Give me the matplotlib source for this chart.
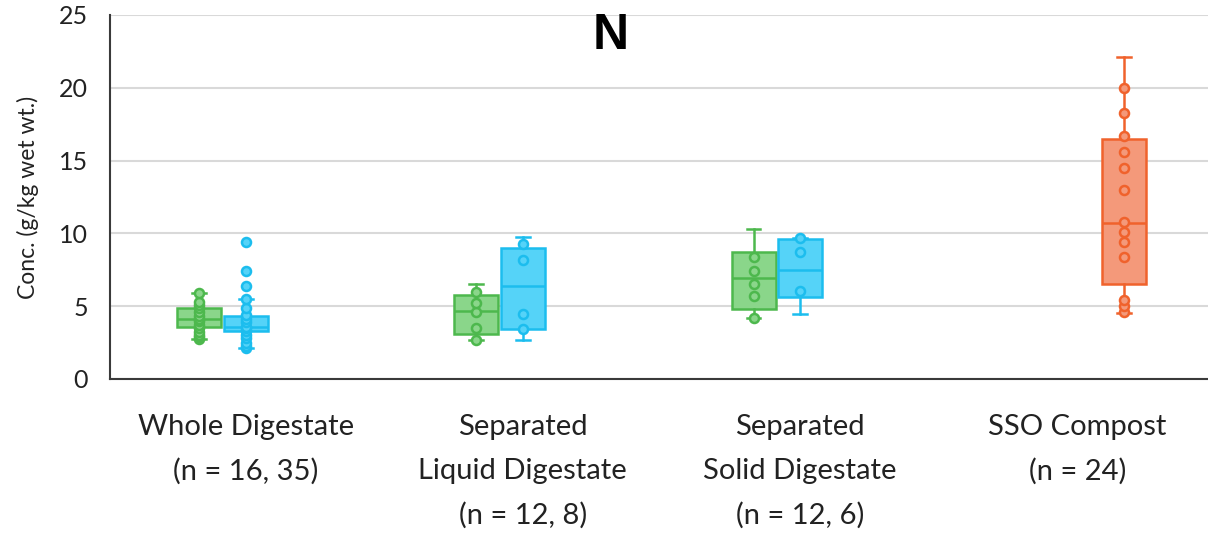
import numpy as np
import matplotlib.pyplot as plt

# Categories and tick labels
categories = ['Whole Digestate\n(n = 16, 35)',
              'Separated\nLiquid Digestate\n(n = 12, 8)',
              'Separated\nSolid Digestate\n(n = 12, 6)',
              'SSO Compost\n(n = 24)']

# Green series (digestate, set 1): box stats per category
green_cat = [0, 1, 2]
green_lo = [2.75, 2.7, 4.2]
green_q1 = [3.55, 3.1, 4.8]
green_med = [4.1, 4.65, 6.95]
green_q3 = [4.9, 5.8, 8.7]
green_hi = [5.9, 6.5, 10.3]
green_pts = [
    [2.75, 2.9, 3.0, 3.2, 3.5, 3.7, 4.0, 4.15, 4.3, 4.6, 4.9, 5.1, 5.3, 5.9],
    [2.7, 3.5, 4.6, 5.25, 6.0],
    [4.2, 5.7, 6.5, 7.4, 8.4],
]

# Blue series (digestate, set 2)
blue_cat = [0, 1, 2]
blue_lo = [2.1, 2.7, 4.45]
blue_q1 = [3.3, 3.4, 5.6]
blue_med = [3.6, 6.4, 7.5]
blue_q3 = [4.35, 9.0, 9.6]
blue_hi = [5.5, 9.75, 9.65]
blue_pts = [
    [2.1, 2.3, 2.5, 2.8, 3.0, 3.3, 3.5, 3.6, 3.9, 4.1, 4.4, 4.9, 5.5, 6.4, 7.4, 9.4],
    [3.4, 4.45, 8.15, 9.3],
    [6.05, 8.75, 9.65],
]

# Orange series (SSO compost)
orange_cat = [3]
orange_lo = [4.5]
orange_q1 = [6.5]
orange_med = [10.7]
orange_q3 = [16.5]
orange_hi = [22.1]
orange_pts = [[4.6, 5.0, 5.4, 8.4, 9.4, 10.1, 10.8, 13.0, 14.5, 15.6, 16.7, 18.3, 20.0]]

plt.rcParams['font.family'] = ['Lato', 'DejaVu Sans']

fig = plt.figure(figsize=(12.08, 5.36), dpi=100)
ax = fig.add_axes([110 / 1208, 157 / 536, 1098 / 1208, 364 / 536])

slot = 0.168
width = 0.159


def draw(cats, lo, q1, med, q3, hi, pts, offset, edge, face):
    stats = []
    for i in range(len(cats)):
        stats.append(dict(whislo=lo[i], q1=q1[i], med=med[i], q3=q3[i],
                          whishi=hi[i], fliers=[]))
    pos = [c + offset for c in cats]
    ax.bxp(stats, positions=pos, widths=width, patch_artist=True,
           showfliers=False, capwidths=0.05,
           boxprops=dict(facecolor=face, edgecolor=edge, linewidth=1.8),
           medianprops=dict(color=edge, linewidth=1.8),
           whiskerprops=dict(color=edge, linewidth=1.8),
           capprops=dict(color=edge, linewidth=1.8), zorder=3)
    for p, vals in zip(pos, pts):
        ax.plot([p] * len(vals), vals, 'o', ms=6.5, mfc=face, mec=edge,
                mew=1.8, zorder=4, linestyle='none')


draw(green_cat, green_lo, green_q1, green_med, green_q3, green_hi, green_pts,
     -slot, '#4DB84D', '#8AD68A')
draw(blue_cat, blue_lo, blue_q1, blue_med, blue_q3, blue_hi, blue_pts,
     0.0, '#1CBDEE', '#55D3F8')
draw(orange_cat, orange_lo, orange_q1, orange_med, orange_q3, orange_hi, orange_pts,
     slot, '#F0622C', '#F4997A')

ax.set_xlim(-0.489, 3.471)
ax.set_ylim(0, 25)
ax.set_yticks([0, 5, 10, 15, 20, 25])
ax.set_xticks(range(4))
ax.set_xticklabels(categories, fontsize=21, linespacing=1.85)
ax.tick_params(axis='y', length=0, pad=16, labelsize=18, colors='#222222')
ax.tick_params(axis='x', length=0, pad=25, colors='#222222')
ax.yaxis.grid(True, color='#D9D9D9', linewidth=1.5, zorder=0)
ax.set_axisbelow(True)
for s in ['top', 'right']:
    ax.spines[s].set_visible(False)
for s in ['left', 'bottom']:
    ax.spines[s].set_color('#3A3A3A')
    ax.spines[s].set_linewidth(1.5)
ax.set_ylabel('Conc. (g/kg wet wt.)', fontsize=16.5, color='#222222', labelpad=14)

fig.text(611 / 1208, 1 - 36 / 536, 'N', fontsize=36, fontweight='bold',
         family='Liberation Sans', ha='center', va='center')

fig.savefig('out.png', dpi=100)
